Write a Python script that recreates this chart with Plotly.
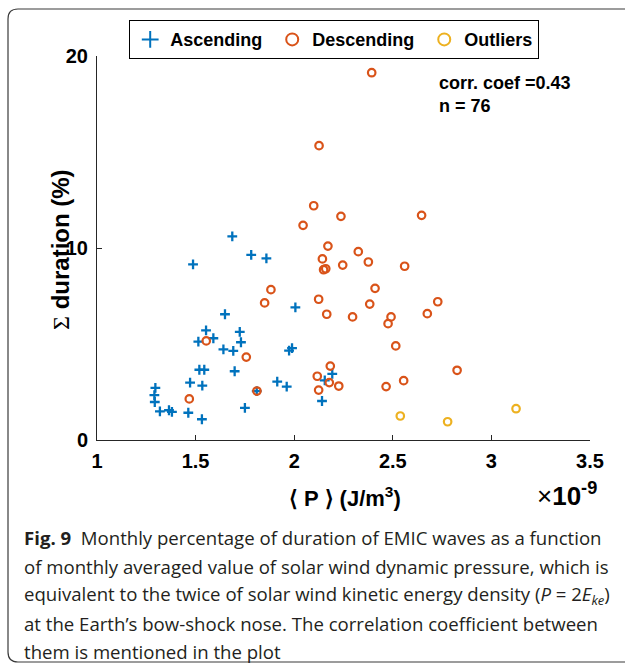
import plotly.graph_objects as go

# ---- data (x in units of 1e-9 J/m^3, y in %) ----
asc_x = [1.686, 1.782, 1.859, 1.487, 1.649, 1.553, 1.514, 1.590, 1.724, 1.730,
         1.641, 1.691, 1.974, 1.989, 1.698, 1.519, 1.544, 1.472, 1.534, 1.914,
         1.962, 1.810, 1.296, 1.291, 1.293, 1.319, 1.365, 1.380, 1.463, 1.532,
         1.750, 2.006, 2.193, 2.155, 2.141]
asc_y = [10.61, 9.64, 9.46, 9.15, 6.55, 5.71, 5.12, 5.30, 5.63, 5.09,
         4.72, 4.64, 4.65, 4.78, 3.58, 3.66, 3.66, 2.99, 2.83, 3.04,
         2.78, 2.55, 2.72, 2.34, 1.98, 1.49, 1.55, 1.46, 1.42, 1.08,
         1.67, 6.91, 3.44, 3.11, 2.03]

desc_x = [2.393, 2.126, 2.099, 2.237, 2.646, 2.045, 2.171, 2.325, 2.143, 2.246,
          2.376, 2.560, 2.149, 2.160, 2.410, 2.124, 2.383, 2.728, 2.165, 2.296,
          2.491, 2.476, 2.675, 2.515, 2.183, 2.117, 2.178, 2.124, 2.226, 2.466,
          2.555, 2.826, 1.882, 1.850, 1.554, 1.757, 1.811, 1.468]
desc_y = [19.13, 15.33, 12.20, 11.65, 11.70, 11.18, 10.10, 9.81, 9.43, 9.11,
          9.27, 9.05, 8.87, 8.92, 7.90, 7.33, 7.08, 7.20, 6.55, 6.41,
          6.41, 6.06, 6.58, 4.90, 3.85, 3.32, 2.99, 2.60, 2.81, 2.78,
          3.09, 3.63, 7.83, 7.14, 5.16, 4.32, 2.55, 2.14]

out_x = [2.538, 2.778, 3.125]
out_y = [1.25, 0.95, 1.63]

x_ticks = [1, 1.5, 2, 2.5, 3, 3.5]
x_ticklabels = ["1", "1.5", "2", "2.5", "3", "3.5"]
y_ticks = [0, 10, 20]
y_ticklabels = ["0", "10", "20"]

corr_text = "corr. coef =0.43"
n_text = "n = 76"

caption_lines = [
    "<b>Fig. 9</b>  Monthly percentage of duration of EMIC waves as a function",
    "of monthly averaged value of solar wind dynamic pressure, which is",
    "equivalent to the twice of solar wind kinetic energy density (<i>P</i> = 2<i>E</i><sub><i>ke</i></sub>)",
    "at the Earth\u2019s bow-shock nose. The correlation coefficient between",
    "them is mentioned in the plot",
]

# ---- layout geometry ----
W, H = 625, 664
L, R, T, B = 97, 35, 56, 224
PW, PH = W - L - R, H - T - B


def px(x):
    return (x - L) / PW


def py(y):
    return (H - B - y) / PH


AX = "#262626"
BLUE = "#0072BD"
ORANGE = "#D95319"
YELLOW = "#EDB120"
SANS = "Liberation Sans, Arial"

fig = go.Figure()
fig.add_trace(go.Scatter(
    x=asc_x, y=asc_y, mode="markers", name="Ascending\u00a0",
    marker=dict(symbol="cross-thin", size=7, color=BLUE,
                line=dict(color=BLUE, width=2.3))))
fig.add_trace(go.Scatter(
    x=desc_x, y=desc_y, mode="markers", name="Descending\u00a0",
    marker=dict(symbol="circle-open", size=7.5, color=ORANGE,
                line=dict(color=ORANGE, width=2.2))))
fig.add_trace(go.Scatter(
    x=out_x, y=out_y, mode="markers", name="Outliers",
    marker=dict(symbol="circle-open", size=7.5, color=YELLOW,
                line=dict(color=YELLOW, width=2.2))))

tickfont = dict(family=SANS, size=20, color="#000000", weight="bold")

fig.update_layout(
    width=W, height=H,
    margin=dict(l=L, r=R, t=T, b=B, pad=0),
    paper_bgcolor="white", plot_bgcolor="white",
    showlegend=True,
    legend=dict(
        orientation="h", x=px(129), y=py(20), xanchor="left", yanchor="top",
        bordercolor="#000000", borderwidth=1.2, bgcolor="white",
        font=dict(family=SANS, size=18, color="#000000", weight="bold"),
        itemsizing="constant", tracegroupgap=0,
    ),
    xaxis=dict(
        range=[1, 3.5], tickvals=x_ticks, ticktext=x_ticklabels,
        showgrid=False, zeroline=False, showline=True, linecolor=AX,
        linewidth=1, ticks="inside", ticklen=5, tickcolor=AX, tickwidth=1,
        tickfont=tickfont, ticklabelstandoff=3, mirror=False,
    ),
    yaxis=dict(
        range=[0, 20], tickvals=y_ticks, ticktext=y_ticklabels,
        showgrid=False, zeroline=False, showline=True, linecolor=AX,
        linewidth=1, ticks="inside", ticklen=5, tickcolor=AX, tickwidth=1,
        tickfont=tickfont, ticklabelstandoff=4, mirror=False,
    ),
)

ann = []
ann.append(dict(x=px(437), y=py(83), xref="paper", yref="paper", text=corr_text,
                showarrow=False, xanchor="left", yanchor="middle",
                font=dict(family=SANS, size=18, color="#000", weight="bold")))
ann.append(dict(x=px(437), y=py(106), xref="paper", yref="paper", text=n_text,
                showarrow=False, xanchor="left", yanchor="middle",
                font=dict(family=SANS, size=18, color="#000", weight="bold")))
# axis titles
ann.append(dict(x=px(345), y=py(497), xref="paper", yref="paper",
                text="\u27e8 P \u27e9 (J/m<sup>3</sup>)",
                showarrow=False, xanchor="center", yanchor="middle",
                font=dict(family=SANS, size=22, color="#000", weight="bold")))
ann.append(dict(x=px(599), y=py(494), xref="paper", yref="paper",
                text="\u00d7<b>10<sup>-9</sup></b>",
                showarrow=False, xanchor="right", yanchor="middle",
                font=dict(family=SANS, size=26, color="#000")))
ann.append(dict(x=px(61), y=py(250), xref="paper", yref="paper",
                text="<span style='font-family:Liberation Serif;font-weight:normal'>\u03a3</span> duration (%)",
                textangle=-90,
                showarrow=False, xanchor="center", yanchor="middle",
                font=dict(family=SANS, size=24, color="#000", weight="bold")))
# caption
cap_y = [537, 566, 595, 623, 651]
for line, yy in zip(caption_lines, cap_y):
    ann.append(dict(x=px(22), y=py(yy), xref="paper", yref="paper", text=line,
                    showarrow=False, xanchor="left", yanchor="middle",
                    font=dict(family="Open Sans", size=18.6, color="#231f20")))
fig.update_layout(annotations=ann)

# rounded frame around figure + caption
x0, x1 = px(8), px(640)
y0, y1 = py(662), py(9)
rx, ry = 10 / PW, 10 / PH
path = (f"M {x0+rx},{y1} L {x1},{y1} M {x0+rx},{y1} Q {x0},{y1} {x0},{y1-ry} "
        f"L {x0},{y0+ry} Q {x0},{y0} {x0+rx},{y0} L {x1},{y0}")
fig.add_shape(type="path", path=path, xref="paper", yref="paper",
              line=dict(color="#3a3a3a", width=1.2), layer="above")

fig.write_html("out.html")
